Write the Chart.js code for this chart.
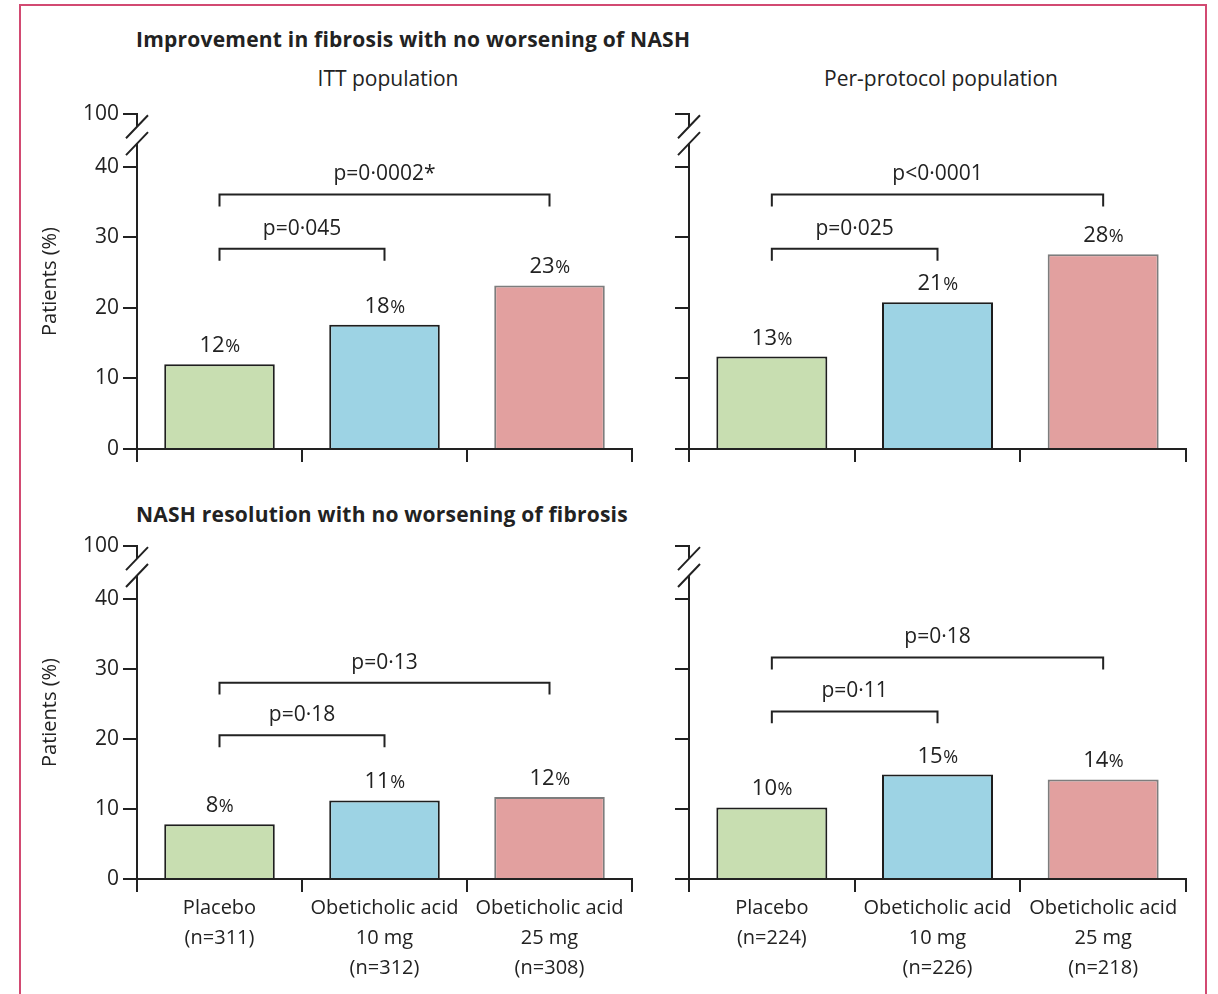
<!DOCTYPE html>
<html>
<head>
<meta charset="utf-8">
<script src="https://cdn.jsdelivr.net/npm/chart.js@4.4.1/dist/chart.umd.min.js"></script>
<style>
  html, body { margin: 0; padding: 0; background: #fff; }
  body { width: 1218px; height: 994px; position: relative; overflow: hidden;
         font-family: 'Open Sans', sans-serif; color: #222; }
  .frame { position: absolute; left: 19px; top: 4px; width: 1184px; height: 1100px;
           border: 2px solid #d24a72; border-bottom: none; }
  .head { position: absolute; font-weight: 700; font-size: 21px; line-height: 28px; white-space: nowrap; letter-spacing: 0.22px; }
  .sub { position: absolute; font-size: 21px; line-height: 28px; white-space: nowrap; transform: translateX(-50%); }
  canvas { position: absolute; }
</style>
</head>
<body>
<div class="frame"></div>
<div class="head" style="left:136px; top:25px;">Improvement in fibrosis with no worsening of NASH</div>
<div class="sub" style="left:388px; top:64px;">ITT population</div>
<div class="sub" style="left:941px; top:64px;">Per-protocol population</div>
<div class="head" style="left:136px; top:500px;">NASH resolution with no worsening of fibrosis</div>

<canvas id="fibItt" width="640" height="400" style="left:0px; top:95px;"></canvas>
<canvas id="fibPp" width="578" height="400" style="left:640px; top:95px;"></canvas>
<canvas id="nashItt" width="640" height="469" style="left:0px; top:525px;"></canvas>
<canvas id="nashPp" width="578" height="469" style="left:640px; top:525px;"></canvas>

<script>
// Treatment groups and group sizes
const groups = ['Placebo', 'Obeticholic acid 10 mg', 'Obeticholic acid 25 mg'];
const nItt = [311, 312, 308];
const nPp = [224, 226, 218];

// Percentage of patients reaching each endpoint
const fibrosisItt = [12.0, 17.6, 23.2];
const fibrosisPp = [13.1, 20.8, 27.6];
const nashItt = [7.8, 11.2, 11.7];
const nashPp = [10.2, 14.9, 14.2];

// Pairwise comparisons against placebo: [10 mg, 25 mg]
const pFibrosisItt = ['p=0·045', 'p=0·0002*'];
const pFibrosisPp = ['p=0·025', 'p<0·0001'];
const pNashItt = ['p=0·18', 'p=0·13'];
const pNashPp = ['p=0·11', 'p=0·18'];

// Y axis: 0-40 with a break up to 100
const yTickValues = [0, 10, 20, 30, 40];
const yTickLabels = ['0', '10', '20', '30', '40'];
const breakLabel = '100';

const FONT = "'Open Sans', sans-serif";
const INK = '#222';
const BREAK_TOP = 47.5;        // scale position where the "100" tick sits
const BREAK_LOW = 43.3;        // axis line resumes below the break
const BREAK_HIGH = 45.7;       // short segment under the 100 tick
const fills = ['#c8deb1', '#9dd3e4', '#e2a09f'];
const edges = ['#1e1e1e', '#1e1e1e', '#7d7d7d'];

function groupLabel(i, n) {
  if (i === 0) return ['Placebo', '(n=' + n[i] + ')'];
  const parts = groups[i].split(' ');
  return [parts.slice(0, 2).join(' '), parts.slice(2).join(' '), '(n=' + n[i] + ')'];
}

// Broken y axis line with the double slash
const axisBreak = {
  id: 'axisBreak',
  afterDraw(chart) {
    const { ctx, chartArea } = chart;
    const y = chart.scales.y;
    const x = chartArea.left;
    const y0 = y.getPixelForValue(0);
    const yLow = y.getPixelForValue(BREAK_LOW);
    const yHigh = y.getPixelForValue(BREAK_HIGH);
    const yTop = y.getPixelForValue(BREAK_TOP);
    ctx.save();
    ctx.strokeStyle = INK;
    ctx.lineWidth = 2;
    ctx.beginPath();
    ctx.moveTo(x, y0 + 1); ctx.lineTo(x, yLow);
    ctx.moveTo(x, yTop - 1); ctx.lineTo(x, yHigh);
    [yLow, yHigh].forEach(c => {
      ctx.moveTo(x - 11, c + 11.5);
      ctx.lineTo(x + 11, c - 11.5);
    });
    ctx.stroke();
    ctx.restore();
  }
};

// Percent labels above bars
const barValues = {
  id: 'barValues',
  afterDatasetsDraw(chart) {
    const { ctx } = chart;
    const data = chart.data.datasets[0].data;
    chart.getDatasetMeta(0).data.forEach((bar, i) => {
      const num = String(Math.round(data[i]));
      ctx.save();
      ctx.fillStyle = INK;
      ctx.textBaseline = 'alphabetic';
      ctx.textAlign = 'left';
      ctx.font = '22px ' + FONT;
      const w1 = ctx.measureText(num).width;
      ctx.font = '18px ' + FONT;
      const w2 = ctx.measureText('%').width;
      const x0 = bar.x - (w1 + w2) / 2;
      const yb = bar.y - 12;
      ctx.font = '22px ' + FONT;
      ctx.fillText(num, x0, yb);
      ctx.font = '18px ' + FONT;
      ctx.fillText('%', x0 + w1 + 0.5, yb);
      ctx.restore();
    });
  }
};

// Comparison brackets with p values
const brackets = {
  id: 'brackets',
  afterDatasetsDraw(chart, args, opts) {
    const { ctx } = chart;
    const xs = chart.scales.x, ys = chart.scales.y;
    opts.items.forEach(b => {
      const x1 = xs.getPixelForValue(b.from);
      const x2 = xs.getPixelForValue(b.to);
      const yl = ys.getPixelForValue(b.level);
      const yLeg = ys.getPixelForValue(b.level - 1.7);
      ctx.save();
      ctx.strokeStyle = INK;
      ctx.lineWidth = 2;
      ctx.beginPath();
      ctx.moveTo(x1, yLeg); ctx.lineTo(x1, yl); ctx.lineTo(x2, yl); ctx.lineTo(x2, yLeg);
      ctx.stroke();
      ctx.fillStyle = INK;
      ctx.font = '21px ' + FONT;
      ctx.textAlign = 'center';
      ctx.textBaseline = 'alphabetic';
      ctx.fillText(b.text, (x1 + x2) / 2, yl - 14);
      ctx.restore();
    });
  }
};

function panel(id, values, pLabels, levels, cfg) {
  const labels = groups.map((g, i) => groupLabel(i, cfg.n));
  return new Chart(document.getElementById(id), {
    type: 'bar',
    data: {
      labels,
      datasets: [{
        data: values,
        backgroundColor: fills,
        borderColor: edges,
        borderWidth: 2,
        borderSkipped: 'start',
        categoryPercentage: 1,
        barPercentage: 0.67
      }]
    },
    plugins: [axisBreak, barValues, brackets],
    options: {
      responsive: false,
      animation: false,
      events: [],
      layout: { padding: { left: 0, right: cfg.padRight, top: cfg.padTop, bottom: 0 } },
      plugins: {
        legend: { display: false },
        tooltip: { enabled: false },
        brackets: {
          items: [
            { from: 0, to: 1, level: levels[0], text: pLabels[0] },
            { from: 0, to: 2, level: levels[1], text: pLabels[1] }
          ]
        }
      },
      scales: {
        x: {
          type: 'category',
          offset: true,
          afterFit: s => { s.height = cfg.xHeight; },
          grid: { offset: true, drawOnChartArea: false, drawTicks: true, tickLength: 13, color: INK, lineWidth: 2 },
          border: { display: true, color: INK, width: 2 },
          ticks: {
            display: cfg.showX,
            autoSkip: false,
            maxRotation: 0,
            padding: 1,
            color: INK,
            font: { family: FONT, size: 20, lineHeight: 1.5 }
          }
        },
        y: {
          type: 'linear',
          min: 0,
          max: BREAK_TOP,
          afterFit: s => { s.width = cfg.yWidth; },
          afterBuildTicks: s => { s.ticks = yTickValues.concat([BREAK_TOP]).map(v => ({ value: v })); },
          grid: { drawOnChartArea: false, drawTicks: true, tickLength: 14, color: INK, lineWidth: 2 },
          border: { display: false },
          ticks: {
            display: cfg.showY,
            padding: 4,
            color: INK,
            font: { family: FONT, size: 21 },
            callback: (v) => v === BREAK_TOP ? breakLabel : yTickLabels[yTickValues.indexOf(v)]
          },
          title: {
            display: cfg.showY,
            text: 'Patients (%)',
            color: INK,
            font: { family: FONT, size: 20 },
            padding: { top: 38, bottom: 0 }
          }
        }
      }
    }
  });
}

panel('fibItt', fibrosisItt, pFibrosisItt, [28.4, 36.1],
  { n: nItt, showX: false, showY: true, yWidth: 137, xHeight: 46, padRight: 8, padTop: 19 });
panel('fibPp', fibrosisPp, pFibrosisPp, [28.4, 36.1],
  { n: nPp, showX: false, showY: false, yWidth: 49, xHeight: 46, padRight: 32, padTop: 19 });
panel('nashItt', nashItt, pNashItt, [20.5, 28.0],
  { n: nItt, showX: true, showY: true, yWidth: 137, xHeight: 115, padRight: 8, padTop: 21 });
panel('nashPp', nashPp, pNashPp, [23.9, 31.6],
  { n: nPp, showX: true, showY: false, yWidth: 49, xHeight: 115, padRight: 32, padTop: 21 });
</script>
</body>
</html>
